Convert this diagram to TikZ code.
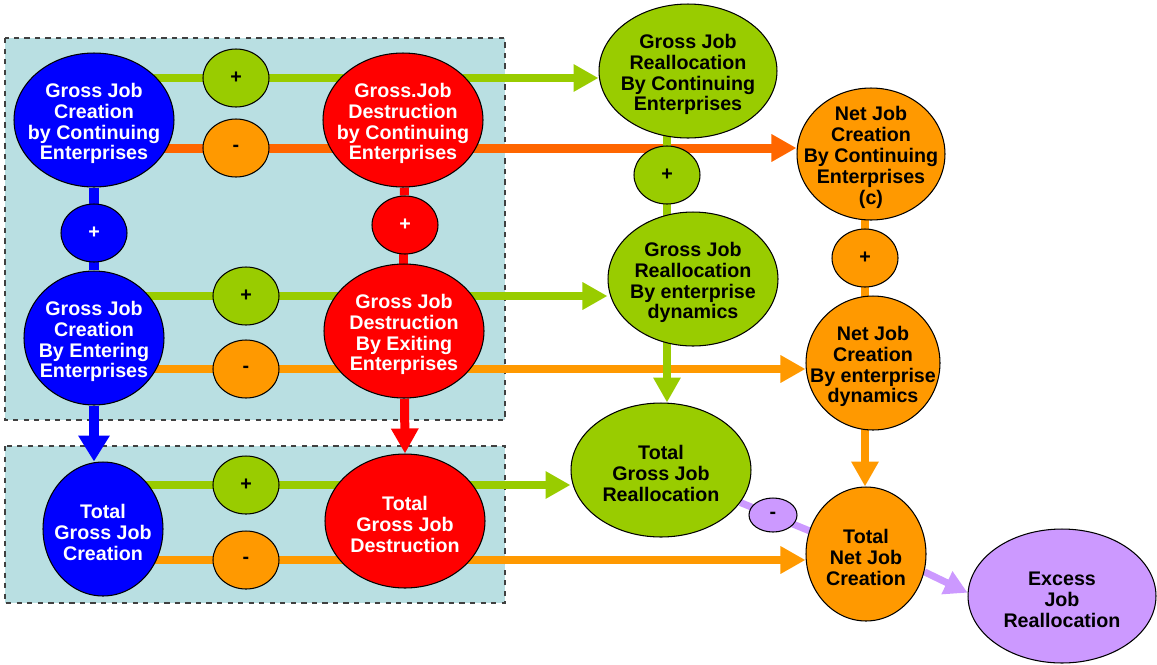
\documentclass[tikz,border=0pt]{standalone}
\usepackage{fontspec}
\newfontfamily\arialfont{Liberation Sans}
\usetikzlibrary{shapes.geometric,arrows.meta}
\definecolor{bluec}{HTML}{0000FF}
\definecolor{redc}{HTML}{FF0000}
\definecolor{greenc}{HTML}{99CC00}
\definecolor{orangec}{HTML}{FF9900}
\definecolor{darkorange}{HTML}{FF6600}
\definecolor{purplec}{HTML}{CC99FF}
\definecolor{panelfill}{HTML}{B9DFE2}
\pgfdeclarelayer{panels}
\pgfdeclarelayer{back}
\pgfsetlayers{panels,back,main}
\tikzstyle{bignode}=[ellipse,draw=black,line width=0.6pt,minimum height=2.68cm,inner sep=0pt]
\tikzstyle{sign}=[ellipse,draw=black,line width=0.6pt,minimum width=1.32cm,minimum height=1.16cm,inner sep=0pt,
font=\arialfont\bfseries\fontsize{11.2}{11.9}\selectfont]
\tikzstyle{wtext}=[text=white,align=center,yshift=-0.07cm,font=\arialfont\bfseries\fontsize{11.2}{11.9}\selectfont]
\tikzstyle{btext}=[text=black,align=center,yshift=-0.07cm,font=\arialfont\bfseries\fontsize{11.2}{11.9}\selectfont]
\tikzstyle{panel}=[fill=panelfill,draw=black!75,dashed,line width=0.6pt]
\tikzstyle{tip}=[-{Triangle[length=0.5cm,width=0.52cm]}]
\tikzstyle{gline}=[greenc,line width=0.16cm]
\tikzstyle{oline}=[orangec,line width=0.16cm]
\tikzstyle{doline}=[darkorange,line width=0.18cm]
\tikzstyle{bline}=[bluec,line width=0.2cm]
\tikzstyle{rline}=[redc,line width=0.18cm]
\tikzstyle{pline}=[purplec,line width=0.14cm]

\begin{document}
\begin{tikzpicture}[x=0.02cm,y=-0.02cm]
    \useasboundingbox (0,0) rectangle (1157,664);
    \begin{pgfonlayer}{panels}
        \draw [panel] (5,38) rectangle (505,420);
        \draw [panel] (5,446) rectangle (505,603);
    \end{pgfonlayer}

        % creation and destruction
        \node (gjcC) [bignode,fill=bluec,minimum width=3.2cm,label={[wtext]center:Gross Job\\Creation\\by Continuing\\Enterprises}] at (94,120) {};
        \node (gjdC) [bignode,fill=redc,minimum width=3.2cm,label={[wtext]center:Gross.Job\\Destruction\\by Continuing\\Enterprises}] at (403,120) {};
        \node (gjcE) [bignode,fill=bluec,minimum width=2.8cm,label={[wtext]center:Gross Job\\Creation\\By Entering\\Enterprises}] at (94,338) {};
        \node (gjdX) [bignode,fill=redc,minimum width=3.2cm,label={[wtext]center:Gross Job\\Destruction\\By Exiting\\Enterprises}] at (404,331) {};
        \node (tgjC) [bignode,fill=bluec,minimum width=2.4cm,label={[wtext]center:Total\\Gross Job\\Creation}] at (103,529) {};
        \node (tgjD) [bignode,fill=redc,minimum width=3.2cm,label={[wtext]center:Total\\Gross Job\\Destruction}] at (405,521) {};

        % reallocation and net creation
        \node (grC) [bignode,fill=greenc,minimum width=3.56cm,label={[btext]center:Gross Job\\Reallocation\\By Continuing\\Enterprises}] at (688,71) {};
        \node (grE) [bignode,fill=greenc,minimum width=3.4cm,label={[btext]center:Gross Job\\Reallocation\\By enterprise\\dynamics}] at (693,279) {};
        \node (tgr) [bignode,fill=greenc,minimum width=3.6cm,label={[btext]center:Total\\Gross Job\\Reallocation}] at (661,470) {};
        \node (njC) [bignode,fill=orangec,minimum width=2.96cm,minimum height=2.64cm,label={[btext]center:Net Job\\Creation\\By Continuing\\Enterprises\\(c)}] at (871,154) {};
        \node (njE) [bignode,fill=orangec,minimum width=2.68cm,label={[btext]center:Net Job\\Creation\\By enterprise\\dynamics}] at (873,363) {};
        \node (tnj) [bignode,fill=orangec,minimum width=2.4cm,label={[btext]center:Total\\Net Job\\Creation}] at (866,554) {};
        \node (excess) [bignode,fill=purplec,minimum width=3.76cm,label={[btext]center:Excess\\Job\\Reallocation}] at (1062,596) {};

        % signs
        \node (pG1) [sign,fill=greenc] at (236,78) {+};
        \node (pO1) [sign,fill=orangec] at (236,148) {-};
        \node (pG2) [sign,fill=greenc] at (246,296) {+};
        \node (pO2) [sign,fill=orangec] at (246,369) {-};
        \node (pG3) [sign,fill=greenc] at (246,485) {+};
        \node (pO3) [sign,fill=orangec] at (246,560) {-};
        \node (pB) [sign,fill=bluec,text=white] at (94,233) {+};
        \node (pR) [sign,fill=redc,text=white] at (405,225) {+};
        \node (pG4) [sign,fill=greenc] at (667,175) {+};
        \node (pO4) [sign,fill=orangec] at (865,258) {+};
        \node (pP) [sign,fill=purplec,minimum width=0.96cm,minimum height=0.68cm] at (773,515) {-};

    \begin{pgfonlayer}{back}
        \draw [gline,tip] (gjcC |- pG1) -- (pG1 -| grC.west);
        \draw [doline,tip] (gjcC |- pO1) -- (pO1 -| njC.west);
        \draw [gline,tip] (gjcE |- pG2) -- (pG2 -| grE.west);
        \draw [oline,tip] (gjcE |- pO2) -- (pO2 -| njE.west);
        \draw [gline,tip] (tgjC |- pG3) -- (pG3 -| tgr.west);
        \draw [oline,tip] (tgjC |- pO3) -- (pO3 -| tnj.west);

        \draw [bline] (gjcC) -- (gjcE);
        \draw [bline,-{Triangle[length=0.52cm,width=0.6cm]}] (gjcE) -- (gjcE |- tgjC.north);
        \draw [rline] (gjdC |- pR) -- (gjdC |- gjdX);
        \draw [rline] (gjdC) -- (pR);
        \draw [rline,tip] (gjdX) -- (tgjD.north);
        \draw [gline] (pG4 |- grC) -- (pG4 |- grE);
        \draw [gline,tip] (pG4 |- grE) -- (pG4 |- tgr.north);
        \draw [oline] (pO4 |- njC) -- (pO4 |- njE);
        \draw [oline,tip] (pO4 |- njE) -- (pO4 |- tnj.north);
        \draw [pline] (tgr) -- (tnj);
        \draw [pline,-{Triangle[length=0.46cm,width=0.48cm]}] (tnj.-17) -- (excess.178);
    \end{pgfonlayer}
    \end{tikzpicture}
\end{document}
